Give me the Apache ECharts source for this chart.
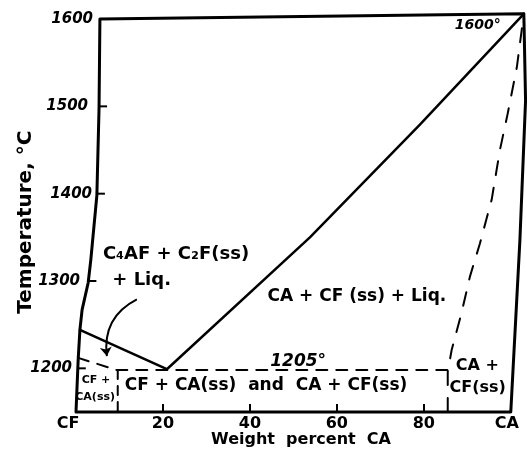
<!DOCTYPE html>
<html>
<head>
<meta charset="utf-8">
<script src="https://cdn.jsdelivr.net/npm/echarts@6/dist/echarts.min.js"></script>
<style>html,body{margin:0;padding:0;background:#fff;}#c{width:527px;height:450px;}</style>
</head>
<body>
<div id="c"></div>
<script>
// ---- data (weight percent CA, temperature °C) ----
const xTickValues = [0, 20, 40, 60, 80, 100];
const xTickLabels = {0: 'CF', 20: '20', 40: '40', 60: '60', 80: '80', 100: 'CA'};
const yTickValues = [1200, 1300, 1400, 1500, 1600];
const leftBoundary = [[0,1150],[0.5,1210],[0.9,1244],[1.4,1267],[2.8,1298],[3.4,1324],[4.8,1398],[5.3,1498],[5.5,1600]];
const topBoundary = [[5.5,1600],[103,1606]];
const rightBoundary = [[103,1606],[103.4,1507],[102.1,1347],[100,1150]];
const bottomBoundary = [[100,1150],[0,1150]];
const liquidus = [[0.9,1244],[20.9,1199],[53.8,1350],[79.1,1479],[103,1606]];
const solidusDashed = [[0.5,1212],[9.4,1198],[85.5,1198]];
const leftPhaseBoundary = [[9.6,1198],[9.6,1150]];
const rightPhaseBoundary = [[85.5,1150],[85.5,1196],[86.4,1221],[88.7,1264],[90.6,1305],[92.9,1343],[95.6,1393],[97.5,1450],[99.3,1492],[101.4,1545],[103,1606]];
const arrowPath = [[14.0,1279],[7.1,1214]];
const labelsLiquid = [
  [23.0,1330,'C₄AF + C₂F(ss)'],
  [15.1,1301,'+ Liq.']
];
const labelsMain = [
  [64.6,1282,'CA + CF (ss) + Liq.'],
  [43.7,1180,'CF + CA(ss)  and  CA + CF(ss)']
];
const labelsRight = [
  [92.3,1203,'CA +'],
  [92.4,1178,'CF(ss)']
];
const labelsSmall = [
  [4.6,1187,'CF +'],
  [4.4,1167,'CA(ss)']
];
const labelEutectic = [[51.1,1208,'1205°']];
const labelMelting = [[92.4,1593,'1600°']];

// ---- helpers ----
function boundaryXAt(T) {
  for (let i = 0; i < leftBoundary.length - 1; i++) {
    const a = leftBoundary[i], b = leftBoundary[i + 1];
    if (T >= a[1] && T <= b[1]) {
      return a[0] + (b[0] - a[0]) * (T - a[1]) / (b[1] - a[1]);
    }
  }
  return leftBoundary[leftBoundary.length - 1][0];
}
const yTickMarks = yTickValues.filter(v => v < 1600).map(v => [boundaryXAt(v), v]);
const frame = leftBoundary.concat(topBoundary.slice(1), rightBoundary.slice(1), bottomBoundary.slice(1));

const labelPad = {1600: 1, 1500: 6, 1400: 2, 1300: 14, 1200: 22};
const rich = {};
yTickValues.forEach(v => {
  rich['t' + v] = {fontFamily: 'DejaVu Sans', fontWeight: 'bold', fontStyle: 'italic', fontSize: 15, color: '#000', padding: [0, labelPad[v], 0, 0]};
});
const xRich = {
  n: {fontFamily: 'DejaVu Sans', fontWeight: 'bold', fontSize: 16, color: '#000'},
  l: {fontFamily: 'DejaVu Sans', fontWeight: 'bold', fontSize: 16, color: '#000', padding: [0, 16, 0, 0]},
  r: {fontFamily: 'DejaVu Sans', fontWeight: 'bold', fontSize: 16, color: '#000', padding: [0, 8, 0, 0]}
};

function textSeries(data, fontSize, fontWeight, fontStyle) {
  return {
    type: 'scatter', data: data.map(d => ({value: [d[0], d[1]], name: d[2]})),
    symbolSize: 0, silent: true, clip: false, z: 5,
    itemStyle: {opacity: 1},
    label: {show: true, position: 'inside', formatter: p => p.name, color: '#000', opacity: 1,
      fontFamily: 'DejaVu Sans', fontSize: fontSize, fontWeight: fontWeight, fontStyle: fontStyle}
  };
}
function lineSeries(data, width, dash) {
  return {
    type: 'line', data: data, showSymbol: false, symbol: 'none', clip: false, silent: true,
    lineStyle: {color: '#000', width: width, type: dash || 'solid', cap: 'round', join: 'round'}, z: 3
  };
}

const chart = echarts.init(document.getElementById('c'), null, {renderer: 'canvas'});
chart.setOption({
  animation: false,
  backgroundColor: '#fff',
  grid: {left: 76, right: 1, top: 10.3, bottom: 38, containLabel: false, outerBoundsMode: 'none'},
  xAxis: {
    type: 'value', min: 0, max: 103.5,
    axisLine: {show: false},
    axisTick: {show: true, inside: true, length: 8, customValues: [20, 40, 60, 80], lineStyle: {color: '#000', width: 2}},
    splitLine: {show: false},
    axisLabel: {customValues: xTickValues, margin: 4,
      formatter: v => v === 0 ? '{l|' + xTickLabels[v] + '}' : (v === 100 ? '{r|' + xTickLabels[v] + '}' : '{n|' + xTickLabels[v] + '}'),
      rich: xRich},
    name: 'Weight  percent  CA', nameLocation: 'middle', nameGap: 20, nameMoveOverlap: false,
    nameTextStyle: {color: '#000', fontFamily: 'DejaVu Sans', fontWeight: 'bold', fontSize: 16}
  },
  yAxis: {
    type: 'value', min: 1150, max: 1610,
    axisLine: {show: false}, axisTick: {show: false}, splitLine: {show: false},
    axisLabel: {
      customValues: yTickValues,
      formatter: v => '{t' + v + '|' + v + '}', rich: rich, margin: -18
    },
    name: 'Temperature, °C', nameLocation: 'middle', nameGap: 40, nameRotate: 90, nameMoveOverlap: false,
    nameTextStyle: {color: '#000', fontFamily: 'DejaVu Sans', fontWeight: 'bold', fontSize: 20, padding: [0, 22, 0, 0]}
  },
  series: [
    lineSeries(frame, 3),
    lineSeries(liquidus, 2.5),
    lineSeries(solidusDashed, 2, [11, 9]),
    lineSeries(leftPhaseBoundary, 2, [9, 7]),
    lineSeries(rightPhaseBoundary, 2, [14, 13]),
    {
      type: 'custom', data: yTickMarks, silent: true, clip: false, z: 4,
      renderItem: (params, api) => {
        const p = api.coord([api.value(0), api.value(1)]);
        return {type: 'line', shape: {x1: p[0], y1: p[1], x2: p[0] + 8, y2: p[1]}, style: {stroke: '#000', lineWidth: 2}};
      }
    },
    {
      type: 'lines', coordinateSystem: 'cartesian2d', silent: true, z: 4,
      symbol: ['none', 'arrow'], symbolSize: 9,
      lineStyle: {color: '#000', width: 2, curveness: -0.35, opacity: 1},
      data: [{coords: arrowPath}]
    },
    textSeries(labelsLiquid, 18, 'bold', 'normal'),
    textSeries(labelsMain, 17, 'bold', 'normal'),
    textSeries(labelsRight, 16, 'bold', 'normal'),
    textSeries(labelsSmall, 11, 'bold', 'normal'),
    textSeries(labelEutectic, 17, 'bold', 'italic'),
    textSeries(labelMelting, 14, 'bold', 'italic')
  ]
});
</script>
</body>
</html>
